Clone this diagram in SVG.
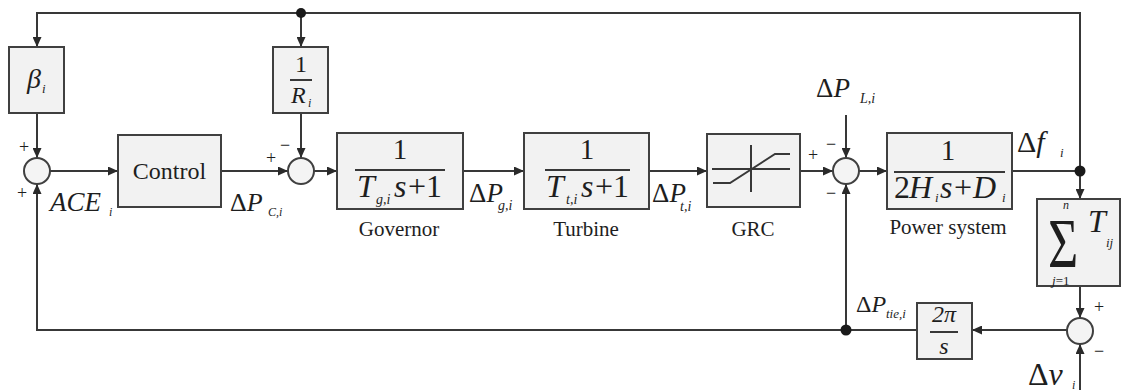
<svg xmlns="http://www.w3.org/2000/svg" width="1121" height="390" viewBox="0 0 1121 390">
  <style>
    .blk { fill: #f2f2f2; stroke: #404040; stroke-width: 2; }
    .sum { fill: #f4f4f4; stroke: #404040; stroke-width: 2; }
    .ln { fill: none; stroke: #383838; stroke-width: 2; }
    .arr { fill: none; stroke: #383838; stroke-width: 2; marker-end: url(#ah); }
    .dot { fill: #1a1a1a; }
    text { fill: #1e1e1e; font-family: "Liberation Serif", "Times New Roman", serif; }
    .it { font-style: italic; }
    .lbl { font-size: 21px; text-anchor: middle; }
    .sgn { font-size: 18px; }
  </style>
  <defs>
    <marker id="ah" markerUnits="userSpaceOnUse" markerWidth="10" markerHeight="9" refX="10" refY="4.5" orient="auto">
      <path d="M0,0 L10,4.5 L0,9 z" fill="#2a2a2a"/>
    </marker>
  </defs>
  <rect width="1121" height="390" fill="#ffffff"/>

  <!-- signal lines -->
  <g id="connectors">
    <path class="arr" d="M1080,171 V13 H37 V47"/>
    <path class="arr" d="M301,13 V47"/>
    <path class="arr" d="M1080,171 V199"/>
    <path class="arr" d="M37,113 V158"/>
    <path class="arr" d="M50,171 H118"/>
    <path class="arr" d="M221,171 H288"/>
    <path class="arr" d="M301,113 V158"/>
    <path class="arr" d="M314,171 H337"/>
    <path class="arr" d="M463,171 H524"/>
    <path class="arr" d="M649,171 H707"/>
    <path class="arr" d="M800,171 H833"/>
    <path class="arr" d="M846,115 V158"/>
    <path class="arr" d="M859,171 H887"/>
    <path class="ln" d="M1012,171 H1080"/>
    <path class="arr" d="M1080,286 V318"/>
    <path class="arr" d="M1080,390 V344"/>
    <path class="arr" d="M1067,330 H972"/>
    <path class="arr" d="M917,330 H37 V184"/>
    <path class="arr" d="M846,330 V184"/>
    <circle class="dot" cx="301" cy="13" r="5"/>
    <circle class="dot" cx="1080" cy="171" r="5.5"/>
    <circle class="dot" cx="846" cy="330" r="5.5"/>
  </g>

  <!-- frequency bias -->
  <g id="beta">
    <rect class="blk" x="9" y="47" width="55" height="66"/>
    <text class="it" x="27" y="88" font-size="28">β</text>
    <text class="it" x="42" y="93" font-size="13">i</text>
  </g>

  <!-- ACE summing junction -->
  <g id="sum-ace">
    <circle class="sum" cx="37" cy="171" r="13"/>
    <text class="sgn" x="19" y="153">+</text>
    <text class="sgn" x="17" y="199">+</text>
    <text class="it" x="50" y="211" font-size="27">ACE</text>
    <text class="it" x="109" y="216" font-size="12">i</text>
  </g>

  <g id="control">
    <rect class="blk" x="118" y="135" width="103" height="72"/>
    <text x="169.5" y="179" font-size="24" text-anchor="middle">Control</text>
    <text x="230" y="211" font-size="26">Δ<tspan class="it">P</tspan></text>
    <text class="it" x="268" y="216" font-size="12">C,i</text>
  </g>

  <!-- droop -->
  <g id="droop">
    <rect class="blk" x="273" y="47" width="55" height="66"/>
    <text x="301" y="72" font-size="24" text-anchor="middle">1</text>
    <path class="ln" d="M290,80 H312" stroke-width="1.5"/>
    <text class="it" x="291" y="103" font-size="24">R</text>
    <text class="it" x="308" y="107" font-size="12">i</text>
  </g>

  <g id="sum-droop">
    <circle class="sum" cx="301" cy="171" r="13"/>
    <text class="sgn" x="266" y="164">+</text>
    <text class="sgn" x="280" y="151">−</text>
  </g>

  <g id="governor">
    <rect class="blk" x="337" y="133" width="126" height="76"/>
    <text x="400" y="159" font-size="29" text-anchor="middle">1</text>
    <path class="ln" d="M355,170 H445" stroke-width="2.5"/>
    <text class="it" x="357" y="197" font-size="32">T</text>
    <text class="it" x="376" y="204" font-size="14">g,i</text>
    <text class="it" x="394" y="197" font-size="32">s</text>
    <text x="408" y="197" font-size="32">+1</text>
    <text class="lbl" x="399" y="236">Governor</text>
    <text x="469" y="202" font-size="27">Δ<tspan class="it">P</tspan></text>
    <text class="it" x="498" y="210" font-size="14">g,i</text>
  </g>

  <g id="turbine">
    <rect class="blk" x="524" y="133" width="125" height="76"/>
    <text x="587" y="159" font-size="29" text-anchor="middle">1</text>
    <path class="ln" d="M545,170 H630" stroke-width="2.5"/>
    <text class="it" x="546" y="197" font-size="32">T</text>
    <text class="it" x="566" y="204" font-size="14">t,i</text>
    <text class="it" x="581" y="197" font-size="32">s</text>
    <text x="595" y="197" font-size="32">+1</text>
    <text class="lbl" x="586" y="236">Turbine</text>
    <text x="652" y="202" font-size="27">Δ<tspan class="it">P</tspan></text>
    <text class="it" x="680" y="211" font-size="14">t,i</text>
  </g>

  <!-- generation rate constraint -->
  <g id="grc">
    <rect class="blk" x="707" y="134" width="93" height="73"/>
    <path class="ln" d="M712,169 H790 M751,145 V192" stroke-width="1.5"/>
    <path class="ln" d="M713,183 H730 L775,154 H790" stroke-width="2"/>
    <text class="lbl" x="753" y="236">GRC</text>
  </g>

  <g id="sum-load">
    <circle class="sum" cx="846" cy="171" r="13"/>
    <text class="sgn" x="808" y="161">+</text>
    <text class="sgn" x="826" y="150">−</text>
    <text class="sgn" x="826" y="199">−</text>
    <text x="816" y="97" font-size="27">Δ<tspan class="it">P</tspan></text>
    <text class="it" x="860" y="103" font-size="14">L,i</text>
  </g>

  <g id="power-system">
    <rect class="blk" x="887" y="133" width="125" height="76"/>
    <text x="948" y="160" font-size="29" text-anchor="middle">1</text>
    <path class="ln" d="M894,172 H1005" stroke-width="2.5"/>
    <text x="894" y="198" font-size="32">2</text>
    <text class="it" x="909" y="198" font-size="32">H</text>
    <text class="it" x="935" y="202" font-size="13">i</text>
    <text class="it" x="940" y="198" font-size="32">s</text>
    <text x="954" y="198" font-size="32">+</text>
    <text class="it" x="973" y="198" font-size="32">D</text>
    <text class="it" x="1002" y="202" font-size="13">i</text>
    <text class="lbl" x="948" y="234">Power system</text>
    <text x="1017" y="152" font-size="30">Δ<tspan class="it">f</tspan></text>
    <text class="it" x="1060" y="157" font-size="13">i</text>
  </g>

  <!-- tie-line coefficient sum -->
  <g id="tie-sum">
    <rect class="blk" x="1037" y="199" width="83" height="87"/>
    <text x="0" y="0" font-size="52" transform="translate(1048,267) scale(1,1.35)">Σ</text>
    <text class="it" x="1063" y="209" font-size="12">n</text>
    <text x="1052" y="285" font-size="13"><tspan class="it">j</tspan>=1</text>
    <text class="it" x="1088" y="232" font-size="32">T</text>
    <text class="it" x="1106" y="247" font-size="13">ij</text>
  </g>

  <g id="sum-tie">
    <circle class="sum" cx="1080" cy="331" r="13"/>
    <text class="sgn" x="1094" y="313">+</text>
    <text class="sgn" x="1094" y="357">−</text>
    <text x="1028" y="385" font-size="32">Δ<tspan class="it">v</tspan></text>
    <text class="it" x="1072" y="389" font-size="12">i</text>
  </g>

  <g id="tie-integrator">
    <rect class="blk" x="917" y="303" width="55" height="56"/>
    <text class="it" x="944" y="322" font-size="24" text-anchor="middle">2π</text>
    <path class="ln" d="M930,332 H958" stroke-width="1.5"/>
    <text class="it" x="944" y="354" font-size="24" text-anchor="middle">s</text>
    <text x="856" y="312" font-size="24">Δ<tspan class="it">P</tspan></text>
    <text class="it" x="886" y="318" font-size="13">tie,i</text>
  </g>
</svg>
